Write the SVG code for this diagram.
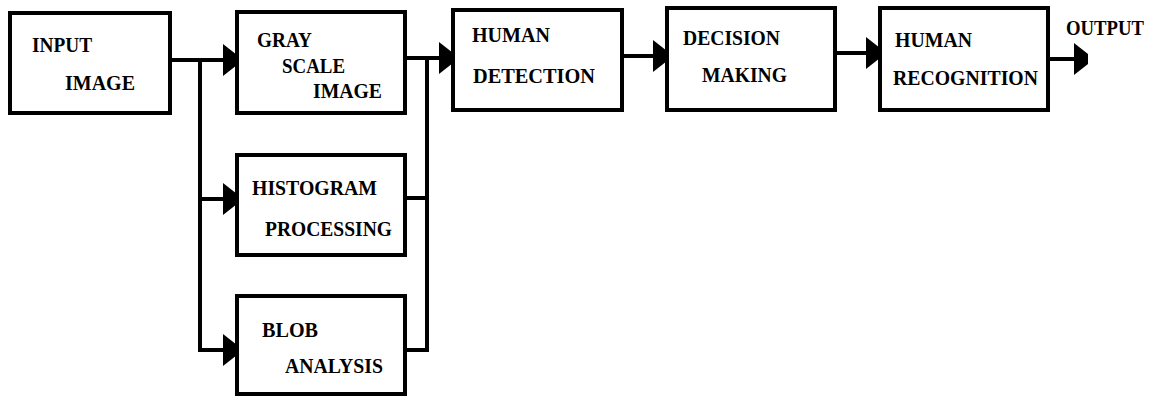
<svg xmlns="http://www.w3.org/2000/svg" width="1150" height="396" viewBox="0 0 1150 396">
<style>
.box{fill:#fff;stroke:#000;stroke-width:4}
.ln{fill:none;stroke:#000;stroke-width:4}
.t{font-family:'Liberation Serif','Times New Roman',Times,serif;font-weight:700;font-size:22px;fill:#000}
</style>
<defs>
<marker id="ah" viewBox="0 0 14 32" refX="14" refY="16" markerWidth="14" markerHeight="32" markerUnits="userSpaceOnUse" orient="auto">
<path d="M0,0 L14,11 L14,21 L0,32 Z" fill="#000"/>
</marker>
</defs>
<g id="connectors">
<line class="ln" x1="170" y1="60" x2="237" y2="60" marker-end="url(#ah)"/>
<polyline class="ln" points="200,60 200,350"/>
<line class="ln" x1="198" y1="199" x2="237" y2="199" marker-end="url(#ah)"/>
<line class="ln" x1="198" y1="350" x2="237" y2="350" marker-end="url(#ah)"/>
<line class="ln" x1="405" y1="58" x2="453" y2="58" marker-end="url(#ah)"/>
<polyline class="ln" points="405,198 427,198"/>
<polyline class="ln" points="405,350 427,350 427,56"/>
<line class="ln" x1="622" y1="56" x2="667" y2="56" marker-end="url(#ah)"/>
<line class="ln" x1="835" y1="53" x2="880" y2="53" marker-end="url(#ah)"/>
<line class="ln" x1="1048" y1="59" x2="1088" y2="59" marker-end="url(#ah)"/>
</g>
<g id="input"><rect class="box" x="10" y="13" width="160" height="100"/>
<text class="t" x="32" y="52" textLength="60" lengthAdjust="spacingAndGlyphs">INPUT</text>
<text class="t" x="65" y="90" textLength="70" lengthAdjust="spacingAndGlyphs">IMAGE</text></g>
<g id="gray"><rect class="box" x="237" y="12" width="168" height="101"/>
<text class="t" x="257" y="47" textLength="55" lengthAdjust="spacingAndGlyphs">GRAY</text>
<text class="t" x="282" y="73" textLength="63" lengthAdjust="spacingAndGlyphs">SCALE</text>
<text class="t" x="313" y="98" textLength="69" lengthAdjust="spacingAndGlyphs">IMAGE</text></g>
<g id="histogram"><rect class="box" x="237" y="155" width="168" height="100"/>
<text class="t" x="252" y="195" textLength="125" lengthAdjust="spacingAndGlyphs">HISTOGRAM</text>
<text class="t" x="265" y="236" textLength="127" lengthAdjust="spacingAndGlyphs">PROCESSING</text></g>
<g id="blob"><rect class="box" x="237" y="296" width="168" height="98"/>
<text class="t" x="262" y="337" textLength="56" lengthAdjust="spacingAndGlyphs">BLOB</text>
<text class="t" x="285" y="373" textLength="98" lengthAdjust="spacingAndGlyphs">ANALYSIS</text></g>
<g id="detection"><rect class="box" x="453" y="10" width="169" height="100"/>
<text class="t" x="472" y="42" textLength="78" lengthAdjust="spacingAndGlyphs">HUMAN</text>
<text class="t" x="473" y="83" textLength="122" lengthAdjust="spacingAndGlyphs">DETECTION</text></g>
<g id="decision"><rect class="box" x="667" y="8" width="168" height="102"/>
<text class="t" x="683" y="45" textLength="97" lengthAdjust="spacingAndGlyphs">DECISION</text>
<text class="t" x="702" y="82" textLength="85" lengthAdjust="spacingAndGlyphs">MAKING</text></g>
<g id="recognition"><rect class="box" x="880" y="8" width="168" height="102"/>
<text class="t" x="895" y="47" textLength="77" lengthAdjust="spacingAndGlyphs">HUMAN</text>
<text class="t" x="893" y="85" textLength="145" lengthAdjust="spacingAndGlyphs">RECOGNITION</text></g>
<g id="output"><text class="t" x="1066" y="35" transform="translate(1066 35) scale(0.85 1) translate(-1066 -35)">OUTPUT</text></g>
</svg>
